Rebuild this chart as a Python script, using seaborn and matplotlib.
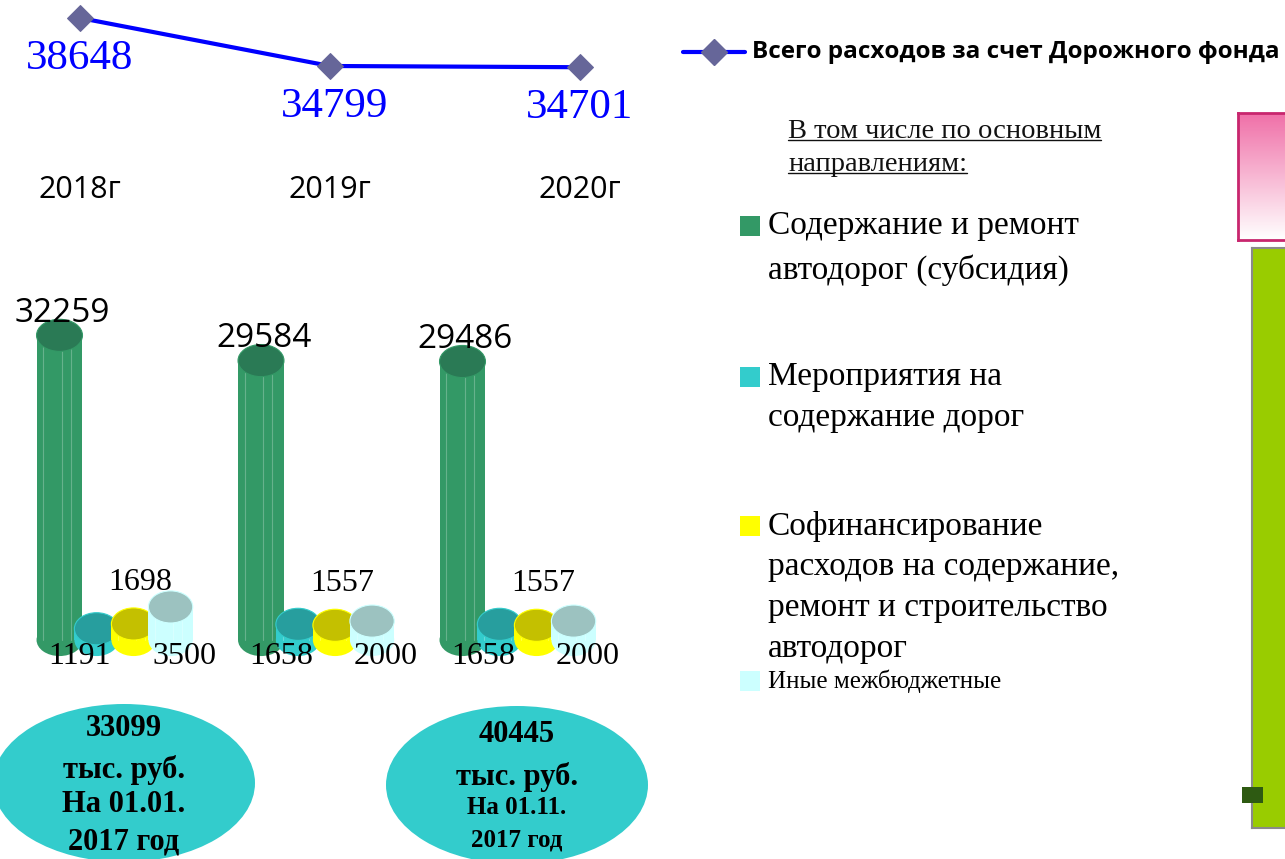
import numpy as np
import pandas as pd
import matplotlib
matplotlib.use('Agg')
import matplotlib.pyplot as plt
from matplotlib.patches import Ellipse, Rectangle
from matplotlib.colors import LinearSegmentedColormap
import seaborn as sns

# chart data
years = ['2018г', '2019г', '2020г']
totals = [38648, 34799, 34701]
categories = ['Содержание и ремонт\nавтодорог (субсидия)',
              'Мероприятия на\nсодержание дорог',
              'Софинансирование\nрасходов на содержание,\nремонт и строительство\nавтодорог',
              'Иные межбюджетные']
subsidy = [32259, 29584, 29486]
maintenance = [1191, 1658, 1658]
cofinancing = [1698, 1557, 1557]
other = [3500, 2000, 2000]
colors = ['#339966', '#33CCCC', '#FFFF00', '#CCFFFF']
cap_colors = ['#2A7A55', '#279E9E', '#C4C000', '#9CC2C0']
fund_totals = ['33099', '40445']
fund_dates = ['На 01.01.', 'На 01.11.']

sns.set_style('white')
plt.rcParams['font.family'] = ['Liberation Serif', 'DejaVu Sans']
plt.rcParams['text.color'] = 'black'
plt.rcParams['xtick.color'] = 'black'
plt.rcParams['xtick.labelcolor'] = 'black'

W, H = 1285, 859
fig = plt.figure(figsize=(W / 100, H / 100), dpi=100)


def box(x0, y0, x1, y1):
    # pixel box (top-left origin) -> figure fraction rect
    return [x0 / W, 1 - y1 / H, (x1 - x0) / W, (y1 - y0) / H]


# ---- total line ----
ax_line = fig.add_axes(box(0, 0, 650, 172))
ax_line.set_facecolor('none')
sns.lineplot(x=np.arange(len(years)), y=totals, ax=ax_line, color='blue', lw=3,
             marker='D', markersize=13, markerfacecolor='#666699',
             markeredgecolor='#666699')
for i, v in enumerate(totals):
    ax_line.annotate(str(v), (i, v), xytext=(3 if i == 1 else 0, -29),
                     textcoords='offset points', ha='center', va='center',
                     color='blue', fontsize=31, annotation_clip=False)
ax_line.set_xlim(-0.32, 2.28)
ax_line.set_ylim(26299, 40091)
ax_line.set_xticks(range(len(years)))
ax_line.set_xticklabels(years, fontsize=22, family='Open Sans', color='black')
ax_line.set_yticks([])
ax_line.tick_params(length=0, pad=2)
sns.despine(ax=ax_line, left=True, bottom=True)

# ---- bars ----
rows = []
for i, y in enumerate(years):
    for cat, vals in zip(categories, [subsidy, maintenance, cofinancing, other]):
        rows.append({'year': y, 'category': cat, 'value': vals[i]})
df = pd.DataFrame(rows)

ax_bar = fig.add_axes(box(0, 300, 650, 640))
ax_bar.set_facecolor('none')
sns.barplot(data=df, x='year', y='value', hue='category', order=years,
            hue_order=categories, palette=colors, width=0.735, saturation=1,
            errorbar=None, legend=False, ax=ax_bar)
ax_bar.set_xlim(-0.571, 2.655)
ax_bar.set_ylim(0, 36000)
ax_bar.axis('off')

cap_h = 3400
for k, cont in enumerate(ax_bar.containers):
    bar_w = 0.228 if k == 0 else 0.22
    for p in cont.patches:
        cx = p.get_x() + p.get_width() / 2
        h = p.get_height()
        p.set_x(cx - bar_w / 2)
        p.set_width(bar_w)
        p.set_edgecolor('none')
        p.set_zorder(3 + k)
        ax_bar.add_patch(Ellipse((cx, 0), bar_w, cap_h, facecolor=colors[k],
                                 edgecolor='none', zorder=2.9 + k, clip_on=False))
        for f in (0.15, 0.55, 0.75):
            ax_bar.plot([cx - bar_w / 2 + f * bar_w] * 2, [0, h], color='white',
                        alpha=0.25, lw=0.8, zorder=3.05 + k, clip_on=False)
        ax_bar.add_patch(Ellipse((cx, h), bar_w, cap_h, facecolor=cap_colors[k],
                                 edgecolor=colors[k], lw=0.8, zorder=3.1 + k,
                                 clip_on=False))
        lab = dict(ha='center', va='center', textcoords='offset points',
                   annotation_clip=False, zorder=10, color='black')
        if k == 0:
            ax_bar.annotate(f'{h:.0f}', (cx, h), xytext=(2, 16), fontsize=24,
                            family='Open Sans', **lab)
        elif k == 1:
            ax_bar.annotate(f'{h:.0f}', (cx, 0), xytext=(-12, -12), fontsize=23, **lab)
        elif k == 2:
            ax_bar.annotate(f'{h:.0f}', (cx, h), xytext=(5, 30), fontsize=23, **lab)
        else:
            ax_bar.annotate(f'{h:.0f}', (cx, 0), xytext=(10, -12), fontsize=23, **lab)

# ---- right side decorations ----
ax_pink = fig.add_axes(box(1238, 113, 1290, 240))
grad = np.linspace(0, 1, 100).reshape(-1, 1)
ax_pink.imshow(grad, aspect='auto',
               cmap=LinearSegmentedColormap.from_list('pk', ['#F070A8', '#FFFFFF']))
ax_pink.set_xticks([]); ax_pink.set_yticks([])
for s in ax_pink.spines.values():
    s.set_color('#C8266E'); s.set_linewidth(2)

ax_green = fig.add_axes(box(1252, 248, 1290, 828))
ax_green.set_facecolor('#99CC00')
ax_green.set_xticks([]); ax_green.set_yticks([])
for s in ax_green.spines.values():
    s.set_color('#8A8A8A'); s.set_linewidth(1.5)

# ---- overlay in pixel coordinates ----
ax_o = fig.add_axes([0, 0, 1, 1])
ax_o.set_xlim(0, W)
ax_o.set_ylim(H, 0)
ax_o.axis('off')
ax_o.patch.set_visible(False)

ax_o.add_patch(Rectangle((1242, 787), 21, 16, facecolor='#2E5A12', edgecolor='none'))

# line legend
ax_o.plot([683, 745], [52, 52], color='blue', lw=3)
ax_o.plot([714], [52], marker='D', ms=13, color='#666699')
ax_o.text(752, 52, 'Всего расходов за счет Дорожного фонда', fontsize=17.5,
          fontweight='bold', family='Open Sans', va='center', ha='left')

# subtitle (underlined)
sub_lines = ['В том числе по основным', 'направлениям:']
sub_texts = []
for j, s in enumerate(sub_lines):
    sub_texts.append(ax_o.text(788, 138 + j * 33, s, fontsize=20.5, color='#111111',
                               va='baseline', ha='left'))

# category legend
leg_y = [226, 377, 526, 681]
leg_gap = [44, 41, 41, 0]
for k, cat in enumerate(categories):
    ax_o.add_patch(Rectangle((740, leg_y[k] - 10), 20, 20, facecolor=colors[k],
                             edgecolor='none'))
    fs = 18 if k == 3 else 24
    for j, line in enumerate(cat.split('\n')):
        ax_o.text(768, leg_y[k] + j * leg_gap[k], line, fontsize=fs,
                  va='center', ha='left')

# fund ellipses
ell_x = [124, 517]
ell_y = [783, 785]
line_y = [[728, 770, 805, 842], [735, 777, 808, 840]]
line_fs = [[22, 22, 22, 22], [22, 22, 18, 18]]
for e in range(2):
    ax_o.add_patch(Ellipse((ell_x[e], ell_y[e]), 262, 158, facecolor='#33CCCC',
                           edgecolor='none'))
    lines = [fund_totals[e], 'тыс. руб.', fund_dates[e], '2017 год']
    for j, s in enumerate(lines):
        ax_o.text(ell_x[e], line_y[e][j], s, fontsize=line_fs[e][j],
                  fontweight='bold', ha='center', va='center')

fig.canvas.draw()
r = fig.canvas.get_renderer()
inv = ax_o.transData.inverted()
for t in sub_texts:
    bb = t.get_window_extent(renderer=r)
    (x0, _), (x1, _) = inv.transform([[bb.x0, bb.y0], [bb.x1, bb.y1]])
    yb = t.get_position()[1] + 2
    ax_o.plot([x0, x1], [yb, yb], color='#111111', lw=1)

fig.savefig('out.png', dpi=100)
